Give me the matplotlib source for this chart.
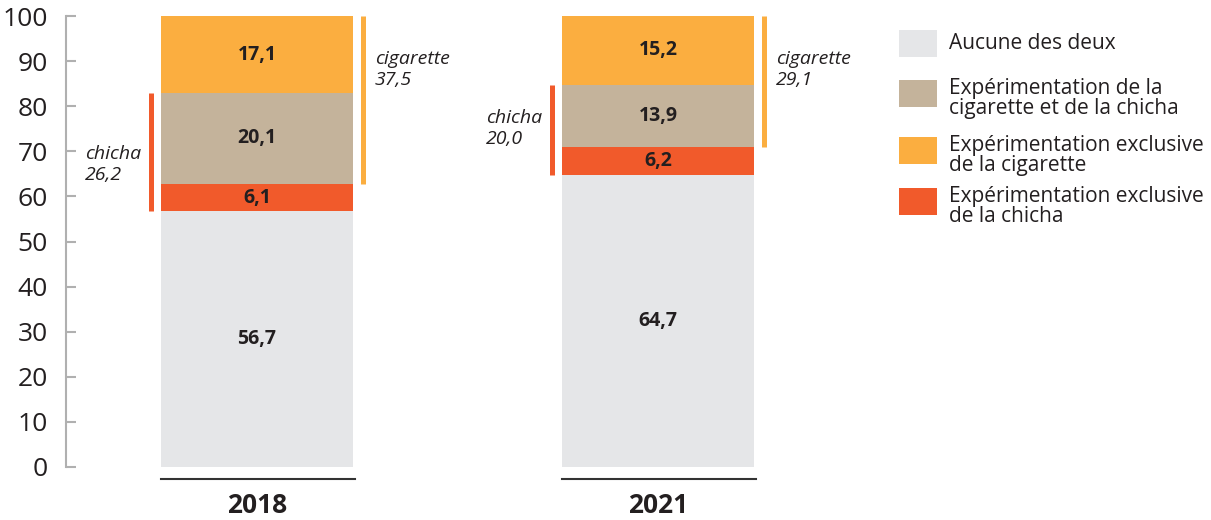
import numpy as np
import matplotlib.pyplot as plt
from matplotlib.patches import Rectangle

plt.rcParams["font.family"] = ["Open Sans", "DejaVu Sans"]

years = ["2018", "2021"]
aucune = [56.7, 64.7]
excl_chicha = [6.1, 6.2]
les_deux = [20.1, 13.9]
excl_cigarette = [17.1, 15.2]
total_chicha = [26.2, 20.0]
total_cigarette = [37.5, 29.1]

series_labels = [
    "Aucune des deux",
    "Expérimentation exclusive\nde la chicha",
    "Expérimentation de la\ncigarette et de la chicha",
    "Expérimentation exclusive\nde la cigarette",
]
colors = ["#e5e6e8", "#f15a2b", "#c4b39b", "#fbae40"]
text_color = "#231f20"

W, H = 1211, 520
fig = plt.figure(figsize=(W / 100, H / 100), dpi=100)

# axes placed in pixel terms: spine at x=66, y=0 at 467px, y=100 at 16px
ax = fig.add_axes([66 / W, (H - 467) / H, (880 - 66) / W, (467 - 16) / H])

x = np.arange(len(years))
bar_w = 192 / 401
ax.set_xlim(-191 / 401, 623 / 401)
ax.set_ylim(0, 100)

stack = [aucune, excl_chicha, les_deux, excl_cigarette]
bottom = np.zeros(len(years))
for vals, col in zip(stack, colors):
    vals = np.array(vals)
    ax.bar(x, vals, bar_w, bottom=bottom, color=col, linewidth=0)
    for xi, b, v in zip(x, bottom, vals):
        ax.text(xi, b + v / 2, f"{v:.1f}".replace(".", ","), ha="center",
                va="center", fontsize=14, fontweight="bold", color=text_color)
    bottom += vals

# brackets for chicha / cigarette totals
off = 10 / 401
for xi, a, c, d, e, tc, tg in zip(x, aucune, excl_chicha, les_deux,
                                  excl_cigarette, total_chicha, total_cigarette):
    ch_lo, ch_hi = a, a + c + d
    cg_lo, cg_hi = a + c, a + c + d + e
    ax.vlines(xi - bar_w / 2 - off, ch_lo, ch_hi, color=colors[1], lw=3.6)
    ax.vlines(xi + bar_w / 2 + off, cg_lo, cg_hi, color=colors[3], lw=3.6)
    ax.text(xi - bar_w / 2 - off - 10 / 401, ch_lo + 6,
            "chicha\n" + f"{tc:.1f}".replace(".", ","), ha="right",
            va="bottom", multialignment="left", style="italic",
            fontsize=14, color=text_color, linespacing=1.25)
    ax.text(xi + bar_w / 2 + off + 12 / 401, 92.5,
            "cigarette\n" + f"{tg:.1f}".replace(".", ","), ha="left",
            va="top", style="italic", fontsize=14, color=text_color,
            linespacing=1.25)

    # baseline under bar
    ax.plot([xi - bar_w / 2, xi + bar_w / 2 + 2 / 401], [-2.7, -2.7],
            color="#333333", lw=1.5, clip_on=False)

for xi, yr in zip(x, years):
    ax.text(xi, -8.5, yr, ha="center", va="center", fontsize=19,
            fontweight="bold", color=text_color, clip_on=False)

for s in ["top", "right", "bottom"]:
    ax.spines[s].set_visible(False)
ax.spines["left"].set_color("#b0b0b0")
ax.spines["left"].set_linewidth(1.5)
ax.set_xticks([])
ax.set_yticks(np.arange(0, 101, 10))
ax.tick_params(axis="y", direction="in", length=7, width=1.5, color="#b0b0b0",
               labelsize=19, labelcolor=text_color, pad=13)

# legend drawn by hand so the swatches sit where the reference has them
legend_order = [0, 2, 3, 1]
legend_top = [30, 80, 137, 188]  # swatch tops, px from top
sw_w, sw_h = 38, 27
for i, top in zip(legend_order, legend_top):
    fig.add_artist(Rectangle((899 / W, 1 - (top + sw_h) / H), sw_w / W,
                             sw_h / H, transform=fig.transFigure,
                             facecolor=colors[i], linewidth=0))
    lab = series_labels[i]
    shift = 5 if "\n" in lab else 0
    fig.text(949 / W, 1 - (top + sw_h / 2 + shift) / H, lab, ha="left",
             va="center", fontsize=15, color=text_color, linespacing=0.95)

fig.savefig("out.png", dpi=100)
